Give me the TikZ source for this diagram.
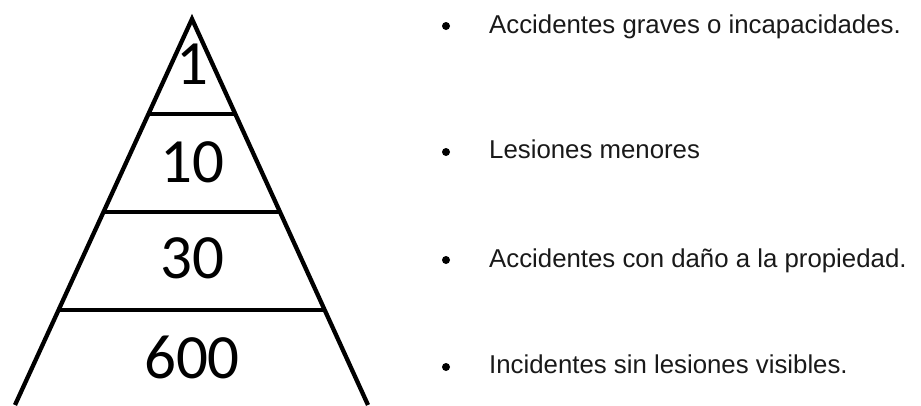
\documentclass[tikz,border=0pt]{standalone}
\usepackage{fontspec}
\setmainfont{Liberation Sans}
\newfontfamily\numfont{Carlito}
\usetikzlibrary{calc}
\tikzstyle{level} = [line width=4.3pt, line join=miter, draw=black]
\tikzstyle{count} = [inner sep=0pt, anchor=center, font=\numfont\fontsize{63}{70}\selectfont]
\tikzstyle{item} = [inner sep=0pt, anchor=base west, font=\fontsize{25.8}{30}\selectfont, text=black!90]
\tikzstyle{dot} = [circle, fill=black, inner sep=0pt, minimum size=8pt]

\begin{document}
\begin{tikzpicture}[x=1pt, y=-1pt]

\useasboundingbox (0,0) rectangle (921,405);

\coordinate (apex) at (192,19);
\coordinate (baseL) at (15,405);
\coordinate (baseR) at (368,405);

\draw [level] (baseL) -- (apex) -- (baseR);
\draw [level] ($(apex)!0.246!(baseL)$) -- ($(apex)!0.246!(baseR)$);
\draw [level] ($(apex)!0.5!(baseL)$) -- ($(apex)!0.5!(baseR)$);
\draw [level] ($(apex)!0.754!(baseL)$) -- ($(apex)!0.754!(baseR)$);

\node(One) [count] at (192,64) {1};
\node(Ten) [count] at (192,162) {10};
\node(Thirty) [count] at (192,258) {30};
\node(Sixhundred) [count] at (192,357) {600};

\node(dotA) [dot] at (446,26) {};
\node(dotB) [dot] at (446,152) {};
\node(dotC) [dot] at (446,260) {};
\node(dotD) [dot] at (446,367) {};

\node(Graves) [item] at (489,33) {Accidentes graves o incapacidades.};
\node(Menores) [item] at (489,158) {Lesiones menores};
\node(Propiedad) [item] at (489,267) {Accidentes con daño a la propiedad.};
\node(Incidentes) [item] at (489,373) {Incidentes sin lesiones visibles.};

\end{tikzpicture}
\end{document}
